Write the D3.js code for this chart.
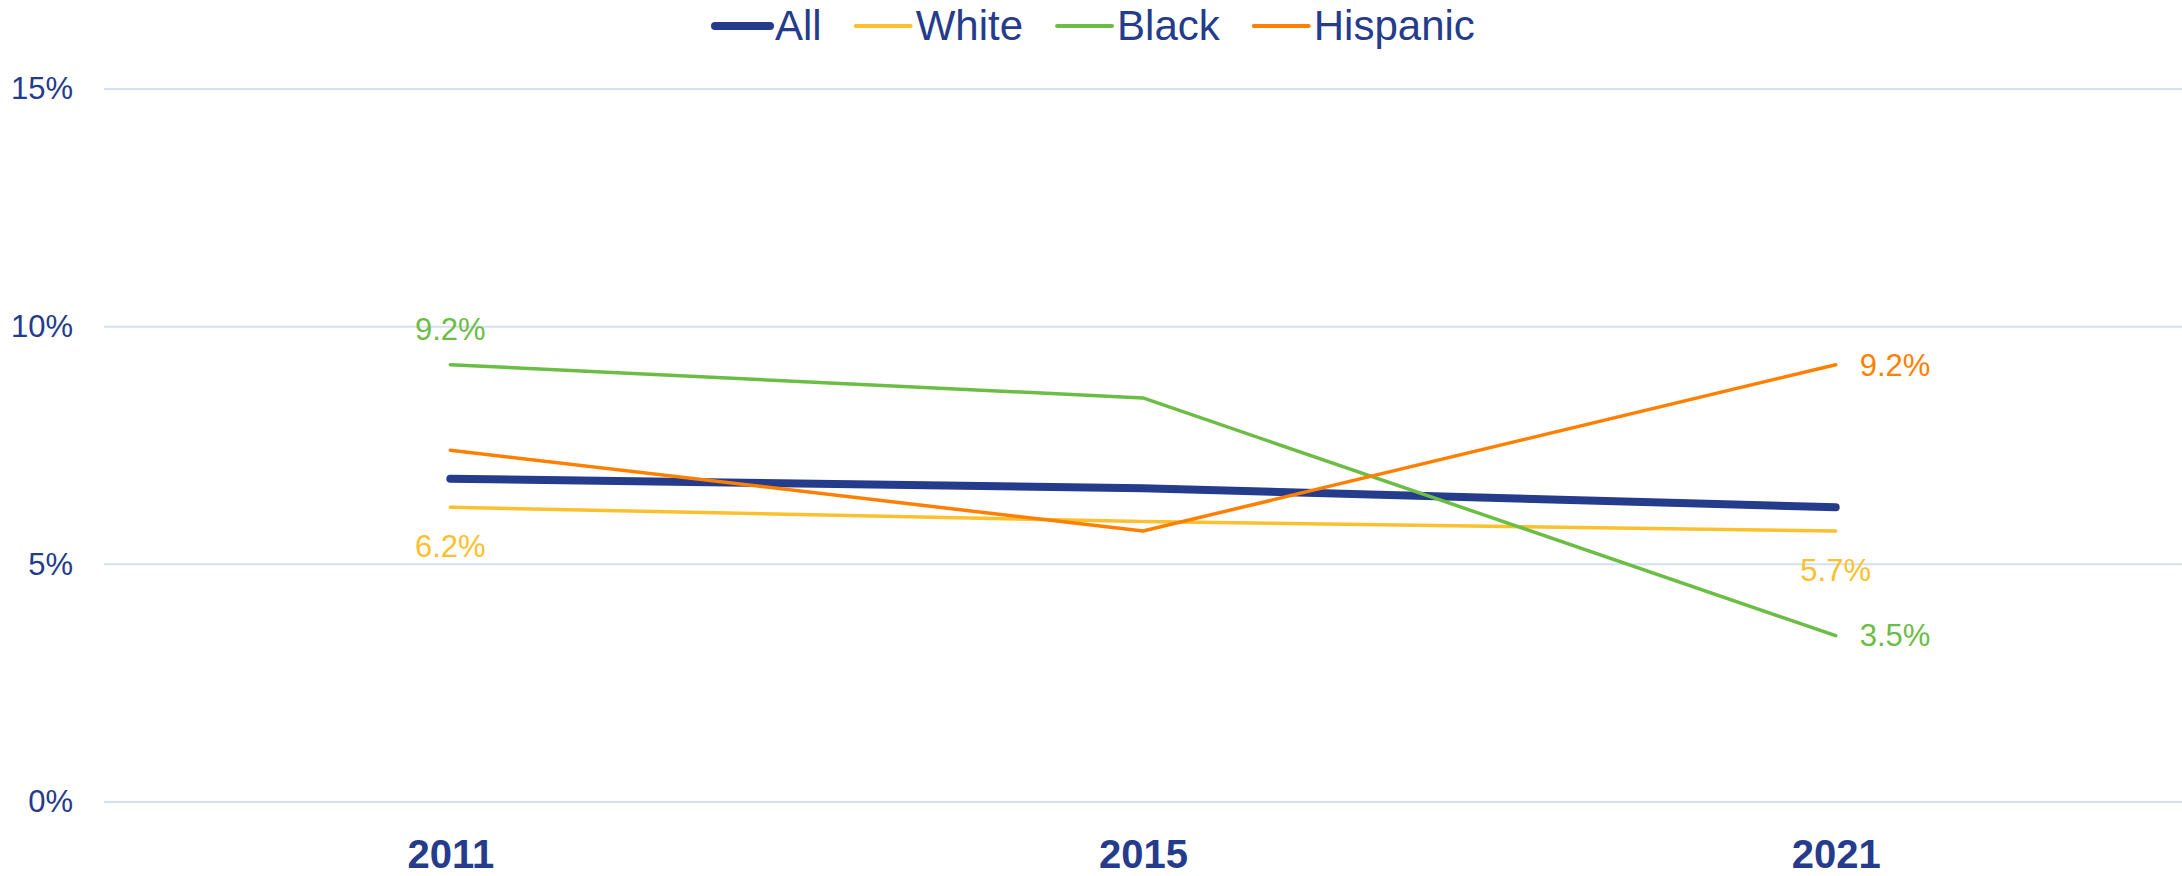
<!DOCTYPE html>
<html>
<head>
<meta charset="utf-8">
<title>Rates by group</title>
<script src="https://cdn.jsdelivr.net/npm/d3@7"></script>
<style>
  body { margin: 0; background: #fff; }
  svg text { font-family: "Liberation Sans", Arial, sans-serif; }
</style>
</head>
<body>
<svg id="chart" width="2182" height="876"></svg>
<script>
// data
const years = ["2011", "2015", "2021"];
const allRate = [6.8, 6.6, 6.2];
const whiteRate = [6.2, 5.9, 5.7];
const blackRate = [9.2, 8.5, 3.5];
const hispanicRate = [7.4, 5.7, 9.2];
const yTicks = [0, 5, 10, 15];

const seriesNames = ["All", "White", "Black", "Hispanic"];
const seriesColors = ["#253b8c", "#fbc02d", "#6cbd45", "#ff8000"];
const seriesWidths = [8, 3.5, 3.5, 3.5];
const seriesValues = [allRate, whiteRate, blackRate, hispanicRate];
// which points carry a value label, and where
const labelPos = [
  [null, null, null],
  ["below", null, "below"],
  ["above", null, "right"],
  [null, null, "right"]
];

const textColor = "#253b8c";
const svg = d3.select("#chart");

const x = d3.scalePoint().domain(years).range([104, 2182]).padding(0.5);
const y = d3.scaleLinear().domain([0, 15]).range([802, 89]);

// gridlines
svg.append("g").selectAll("line")
  .data(yTicks).join("line")
  .attr("x1", 104).attr("x2", 2182)
  .attr("y1", d => y(d)).attr("y2", d => y(d))
  .attr("stroke", "#d6dff1").attr("stroke-width", 2);

// y axis labels
const yAxis = svg.append("g").attr("transform", "translate(73,0)")
  .call(d3.axisLeft(y).tickValues(yTicks).tickSize(0).tickPadding(0).tickFormat(d => d + "%"));
yAxis.select(".domain").remove();
yAxis.selectAll("text")
  .attr("font-size", 31).attr("fill", textColor)
  .attr("font-family", "Liberation Sans, Arial, sans-serif");

// x axis labels
const xAxis = svg.append("g").attr("transform", "translate(0,840)")
  .call(d3.axisBottom(x).tickSize(0).tickPadding(0));
xAxis.select(".domain").remove();
xAxis.selectAll("text")
  .attr("font-size", 40).attr("font-weight", "bold").attr("fill", textColor)
  .attr("dy", "0.7em")
  .attr("font-family", "Liberation Sans, Arial, sans-serif");

// lines
const line = d3.line().x((d, i) => x(years[i])).y(d => y(d));
seriesValues.forEach((vals, s) => {
  svg.append("path")
    .attr("d", line(vals))
    .attr("fill", "none")
    .attr("stroke", seriesColors[s])
    .attr("stroke-width", seriesWidths[s])
    .attr("stroke-linecap", "round")
    .attr("stroke-linejoin", "round");
});

// value labels
seriesValues.forEach((vals, s) => {
  vals.forEach((v, i) => {
    const pos = labelPos[s][i];
    if (!pos) return;
    const t = svg.append("text")
      .text(v.toFixed(1) + "%")
      .attr("font-size", 31)
      .attr("fill", seriesColors[s]);
    const px = x(years[i]), py = y(v);
    if (pos === "above") {
      t.attr("x", px).attr("y", py - 25).attr("text-anchor", "middle");
    } else if (pos === "below") {
      t.attr("x", px).attr("y", py + 50).attr("text-anchor", "middle");
    } else {
      t.attr("x", px + 24).attr("y", py).attr("dy", "0.35em");
    }
  });
});

// legend
const legend = svg.append("g");
let lx = 715;
seriesNames.forEach((name, s) => {
  const g = legend.append("g");
  g.append("line")
    .attr("x1", lx).attr("x2", lx + 55)
    .attr("y1", 26).attr("y2", 26)
    .attr("stroke", seriesColors[s])
    .attr("stroke-width", s === 0 ? 8 : 4)
    .attr("stroke-linecap", "round");
  const t = g.append("text")
    .attr("x", lx + 60).attr("y", 40)
    .attr("font-size", 42).attr("fill", textColor)
    .text(name);
  lx += 60 + t.node().getComputedTextLength() + 34;
});
</script>
</body>
</html>
